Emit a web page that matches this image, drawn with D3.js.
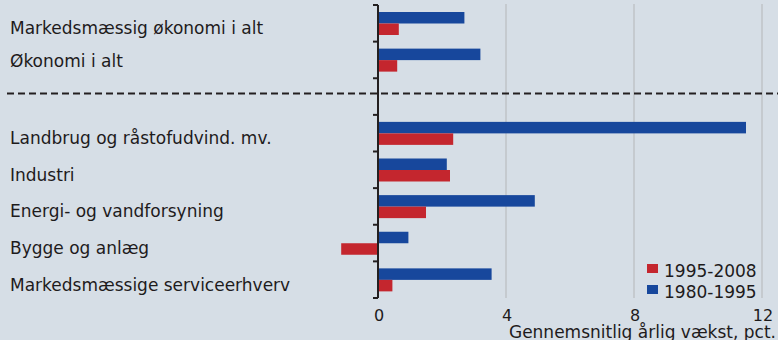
<!DOCTYPE html>
<html>
<head>
<meta charset="utf-8">
<script src="https://cdn.jsdelivr.net/npm/d3@7"></script>
<style>
  html, body { margin: 0; padding: 0; background: #d6dee6; }
  svg { display: block; }
  text { font-family: "DejaVu Sans", Verdana, sans-serif; fill: #1e1b1c; }
</style>
</head>
<body>
<svg id="chart" width="778" height="340"></svg>
<script>
// Sectors, top to bottom; the empty entry is the gap holding the dashed divider
const categories = [
  "Markedsmæssig økonomi i alt",
  "Økonomi i alt",
  "",
  "Landbrug og råstofudvind. mv.",
  "Industri",
  "Energi- og vandforsyning",
  "Bygge og anlæg",
  "Markedsmæssige serviceerhverv"
];
// Average annual growth, pct.
const growth1980_1995 = [2.7, 3.2, null, 11.5, 2.15, 4.9, 0.95, 3.55];
const growth1995_2008 = [0.65, 0.6, null, 2.35, 2.25, 1.5, -1.15, 0.45];
const seriesNames = ["1995-2008", "1980-1995"];
const xTicks = [0, 4, 8, 12];
const axisTitle = "Gennemsnitlig årlig vækst, pct.";

const colors = { "1980-1995": "#17479c", "1995-2008": "#c4262e" };

const svg = d3.select("#chart");

const x = d3.scaleLinear().domain([0, 12]).range([378, 762]);
const y = d3.scaleBand().domain(d3.range(categories.length)).range([5, 298]).paddingInner(0).paddingOuter(0);
const bw = y.bandwidth();
const barTop = 7;
const barH = 11.5;

// vertical gridlines
svg.append("g").selectAll("line")
  .data(xTicks.filter(d => d !== 0))
  .join("line")
  .attr("x1", d => x(d)).attr("x2", d => x(d))
  .attr("y1", 4).attr("y2", 298)
  .attr("stroke", "#c5cacf").attr("stroke-width", 2);

// bars
const rows = categories.map((c, i) => ({ i, c, a: growth1980_1995[i], b: growth1995_2008[i] }))
  .filter(d => d.a !== null);

const bars = svg.append("g");
bars.selectAll("rect.a").data(rows).join("rect")
  .attr("class", "a")
  .attr("x", d => Math.min(x(0), x(d.a)))
  .attr("width", d => Math.abs(x(d.a) - x(0)))
  .attr("y", d => y(d.i) + barTop)
  .attr("height", barH)
  .attr("fill", colors["1980-1995"]);
bars.selectAll("rect.b").data(rows).join("rect")
  .attr("class", "b")
  .attr("x", d => Math.min(x(0), x(d.b)))
  .attr("width", d => Math.abs(x(d.b) - x(0)))
  .attr("y", d => y(d.i) + barTop + barH)
  .attr("height", barH)
  .attr("fill", colors["1995-2008"]);

// category axis at zero
const axisG = svg.append("g").attr("transform", `translate(${x(0)},0)`);
axisG.append("line")
  .attr("x1", 0).attr("x2", 0).attr("y1", 5).attr("y2", 298)
  .attr("stroke", "#231f20").attr("stroke-width", 2);
const boundaries = d3.range(categories.length + 1).map(i => 5 + i * bw);
axisG.selectAll("line.tick").data(boundaries).join("line")
  .attr("class", "tick")
  .attr("x1", -5).attr("x2", 0)
  .attr("y1", d => d).attr("y2", d => d)
  .attr("stroke", "#231f20").attr("stroke-width", 2);

// category labels (the second one sits a little higher, just above the divider gap)
svg.append("g").selectAll("text")
  .data(categories.map((c, i) => ({ c, i })).filter(d => d.c))
  .join("text")
  .attr("x", 10)
  .attr("y", d => y(d.i) + bw / 2 + (d.i === 1 ? 7 : 11))
  .attr("font-size", 17)
  .text(d => d.c);

// dashed divider
svg.append("line")
  .attr("x1", 7).attr("x2", 778)
  .attr("y1", y(2) + bw / 2 - 3).attr("y2", y(2) + bw / 2 - 3)
  .attr("stroke", "#231f20").attr("stroke-width", 2)
  .attr("stroke-dasharray", "7,4");

// x tick labels
svg.append("g").selectAll("text")
  .data(xTicks).join("text")
  .attr("x", d => x(d) + 1)
  .attr("y", 321)
  .attr("text-anchor", "middle")
  .attr("font-size", 16)
  .text(d => d);

// axis title
svg.append("text")
  .attr("x", 776).attr("y", 338)
  .attr("text-anchor", "end")
  .attr("font-size", 17)
  .text(axisTitle);

// legend
const legend = svg.append("g").attr("transform", "translate(647,264)");
seriesNames.forEach((name, k) => {
  const g = legend.append("g").attr("transform", `translate(0,${k * 21})`);
  g.append("rect").attr("width", 11).attr("height", 9).attr("fill", colors[name]);
  g.append("text").attr("x", 17).attr("y", 12.5).attr("font-size", 17).text(name);
});
</script>
</body>
</html>
